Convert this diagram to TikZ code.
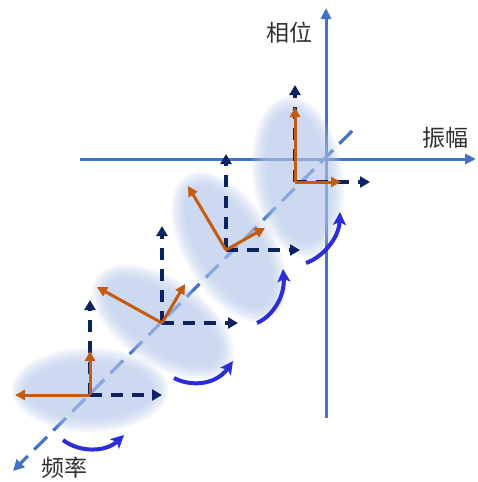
\documentclass[tikz,border=0pt]{standalone}
\usepackage{fontspec}
\newfontfamily\cjk{Noto Sans CJK SC}
\usetikzlibrary{arrows.meta}
\definecolor{axisblue}{HTML}{4472C4}
\definecolor{navy}{HTML}{0E2260}
\definecolor{orng}{HTML}{C55A11}
\definecolor{curvblue}{HTML}{2C2CD8}
\definecolor{blobc}{HTML}{B3C6E8}
\definecolor{txt}{HTML}{303030}
\newcommand\myblob[5]{%
  \foreach \k in {0,...,5}{%
    \fill[blobc, opacity=0.17, shift={(#1,#2)}, rotate=#3]
      (0,0) ellipse [x radius={(#4-2.8*\k)*1pt}, y radius={(#5-2.8*\k)*1pt}];
  }%
}
\begin{document}
\begin{tikzpicture}[x=1pt,y=-1pt,
  axis/.style={axisblue, line width=3pt, -{Triangle[length=11pt,width=10pt]}},
  freqaxis/.style={axisblue, line width=3.2pt, dash pattern=on 18pt off 9pt, -{Triangle[length=11pt,width=11pt]}},
  navyarrow/.style={navy, line width=3.2pt, dash pattern=on 12pt off 9pt, -{Triangle[length=10pt,width=11pt]}},
  orarrow/.style={orng, line width=3pt, -{Triangle[length=10pt,width=10pt]}},
  curv/.style={curvblue, line width=4pt, -{Stealth[length=13pt,width=13pt,inset=3pt]}},
  lab/.style={text=txt, font=\cjk\fontsize{23}{25}\selectfont, inner sep=0pt}
]
\useasboundingbox (0,0) rectangle (477,482);
% axes
\coordinate (vbot) at (326,418);
\coordinate (vtop) at (326,8);
\coordinate (hl) at (80,159);
\coordinate (hr) at (476,159);
\coordinate (fend) at (352,131);
\coordinate (ftip) at (13,471);
\draw[axis] (vbot) -- (vtop);
\draw[axis] (hl) -- (hr);
\draw[freqaxis] (fend) -- (ftip);
% blobs
\myblob{90}{390}{0}{78}{42}
\myblob{163}{322}{-34}{80}{43}
\myblob{229}{247}{-59}{83}{45}
\myblob{298}{177}{-82}{81}{45}
% frame 1
\coordinate (o1) at (90,395);
\coordinate (o1u) at (90,300);
\coordinate (o1r) at (162,395);
\coordinate (o1a) at (15,395);
\coordinate (o1b) at (90,351);
\draw[navyarrow] (o1) -- (o1u);
\draw[navyarrow] (o1) -- (o1r);
\draw[orarrow] (o1) -- (o1a);
\draw[orarrow] (o1) -- (o1b);
% frame 2
\coordinate (o2) at (162,323);
\coordinate (o2u) at (162,226);
\coordinate (o2r) at (238,323);
\coordinate (o2a) at (97,287);
\coordinate (o2b) at (185,284);
\draw[navyarrow] (o2) -- (o2u);
\draw[navyarrow] (o2) -- (o2r);
\draw[orarrow] (o2) -- (o2a);
\draw[orarrow] (o2) -- (o2b);
% frame 3
\coordinate (o3) at (226,250);
\coordinate (o3u) at (226,154);
\coordinate (o3r) at (300,250);
\coordinate (o3a) at (188,186);
\coordinate (o3b) at (265,228);
\draw[navyarrow] (o3) -- (o3u);
\draw[navyarrow] (o3) -- (o3r);
\draw[orarrow] (o3) -- (o3a);
\draw[orarrow] (o3) -- (o3b);
% frame 4
\coordinate (o4) at (295,182);
\coordinate (o4u) at (295,85);
\coordinate (o4r) at (370,182);
\coordinate (o4a) at (295,107);
\coordinate (o4b) at (341,182);
\draw[navyarrow] (o4) -- (o4u);
\draw[navyarrow] (o4) -- (o4r);
\draw[orarrow] (o4) -- (o4a);
\draw[orarrow] (o4) -- (o4b);
% curved arrows
\coordinate (ca1) at (63,440); \coordinate (ca2) at (124,435);
\coordinate (cb1) at (174,378); \coordinate (cb2) at (233,361);
\coordinate (cc1) at (257,323); \coordinate (cc2) at (283,269);
\coordinate (cd1) at (306,263); \coordinate (cd2) at (340,212);
\draw[curv] (ca1) .. controls (80,453) and (106,452) .. (ca2);
\draw[curv] (cb1) .. controls (191,387) and (216,385) .. (cb2);
\draw[curv] (cc1) .. controls (273,316) and (285,296) .. (cc2);
\draw[curv] (cd1) .. controls (323,257) and (339,238) .. (cd2);
% labels
\node[lab] (phase) at (289,33) {相位};
\node[lab] (amp) at (445,138) {振幅};
\node[lab] (freq) at (64,468) {频率};
\end{tikzpicture}
\end{document}
